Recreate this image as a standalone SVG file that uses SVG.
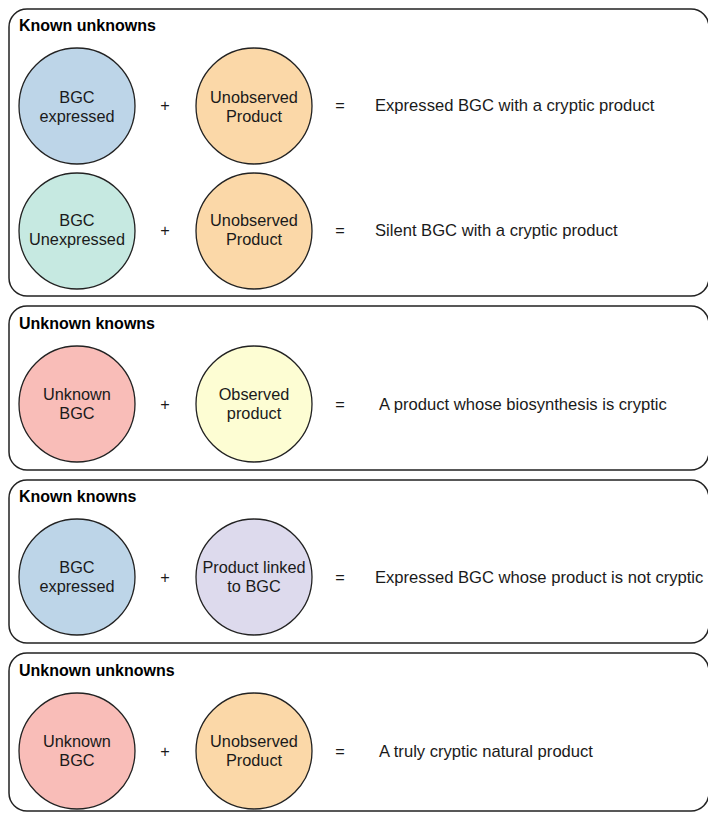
<svg xmlns="http://www.w3.org/2000/svg" width="708" height="813" viewBox="0 0 708 813">
<style>
.panel{fill:#fff;stroke:#222;stroke-width:1.5}
.c{stroke:#222;stroke-width:1.3}
.t{font-family:"Liberation Sans",Arial,sans-serif;font-size:16.3px;fill:#1a1a1a}
.r{font-size:16.6px}
.m{text-anchor:middle}
.h{font-family:"Liberation Sans",Arial,sans-serif;font-size:16px;font-weight:bold;fill:#000}
</style>
<rect width="708" height="813" fill="#fff"/>
<g id="panel-known-unknowns">
<rect class="panel" x="9" y="9" width="700" height="287" rx="18"/>
<text class="h" x="19" y="31">Known unknowns</text>
</g>
<g id="panel-unknown-knowns">
<rect class="panel" x="9" y="306" width="700" height="164" rx="18"/>
<text class="h" x="19" y="329">Unknown knowns</text>
</g>
<g id="panel-known-knowns">
<rect class="panel" x="9" y="480" width="700" height="163" rx="18"/>
<text class="h" x="19" y="502">Known knowns</text>
</g>
<g id="panel-unknown-unknowns">
<rect class="panel" x="9" y="653" width="700" height="158" rx="18"/>
<text class="h" x="19" y="676">Unknown unknowns</text>
</g>

<g id="n1a"><circle class="c" cx="77" cy="106" r="58" fill="#bdd5e8"/><text class="t m" x="77" y="103">BGC</text><text class="t m" x="77" y="122">expressed</text></g>
<g id="n1b"><circle class="c" cx="254" cy="106" r="58" fill="#fbd8a8"/><text class="t m" x="254" y="103">Unobserved</text><text class="t m" x="254" y="122">Product</text></g>
<g id="r1"><text class="t m" x="165" y="111">+</text><text class="t m" x="340" y="111">=</text><text class="t r" x="375" y="111">Expressed BGC with a cryptic product</text></g>

<g id="n2a"><circle class="c" cx="77" cy="231" r="58" fill="#c6e9e1"/><text class="t m" x="77" y="226">BGC</text><text class="t m" x="77" y="245">Unexpressed</text></g>
<g id="n2b"><circle class="c" cx="254" cy="231" r="58" fill="#fbd8a8"/><text class="t m" x="254" y="226">Unobserved</text><text class="t m" x="254" y="245">Product</text></g>
<g id="r2"><text class="t m" x="165" y="236">+</text><text class="t m" x="340" y="236">=</text><text class="t r" x="375" y="236">Silent BGC with a cryptic product</text></g>

<g id="n3a"><circle class="c" cx="77" cy="404" r="58" fill="#f9bdb8"/><text class="t m" x="77" y="400">Unknown</text><text class="t m" x="77" y="419">BGC</text></g>
<g id="n3b"><circle class="c" cx="254" cy="404" r="58" fill="#fdfdd3"/><text class="t m" x="254" y="400">Observed</text><text class="t m" x="254" y="419">product</text></g>
<g id="r3"><text class="t m" x="165" y="410">+</text><text class="t m" x="340" y="410">=</text><text class="t r" x="379" y="410">A product whose biosynthesis is cryptic</text></g>

<g id="n4a"><circle class="c" cx="77" cy="577" r="58" fill="#bdd5e8"/><text class="t m" x="77" y="573">BGC</text><text class="t m" x="77" y="592">expressed</text></g>
<g id="n4b"><circle class="c" cx="254" cy="577" r="58" fill="#dddaed"/><text class="t m" x="254" y="573">Product linked</text><text class="t m" x="254" y="592">to BGC</text></g>
<g id="r4"><text class="t m" x="165" y="583">+</text><text class="t m" x="340" y="583">=</text><text class="t r" x="375" y="583">Expressed BGC whose product is not cryptic</text></g>

<g id="n5a"><circle class="c" cx="77" cy="751" r="58" fill="#f9bdb8"/><text class="t m" x="77" y="747">Unknown</text><text class="t m" x="77" y="766">BGC</text></g>
<g id="n5b"><circle class="c" cx="254" cy="751" r="58" fill="#fbd8a8"/><text class="t m" x="254" y="747">Unobserved</text><text class="t m" x="254" y="766">Product</text></g>
<g id="r5"><text class="t m" x="165" y="757">+</text><text class="t m" x="340" y="757">=</text><text class="t r" x="379" y="757">A truly cryptic natural product</text></g>
</svg>
